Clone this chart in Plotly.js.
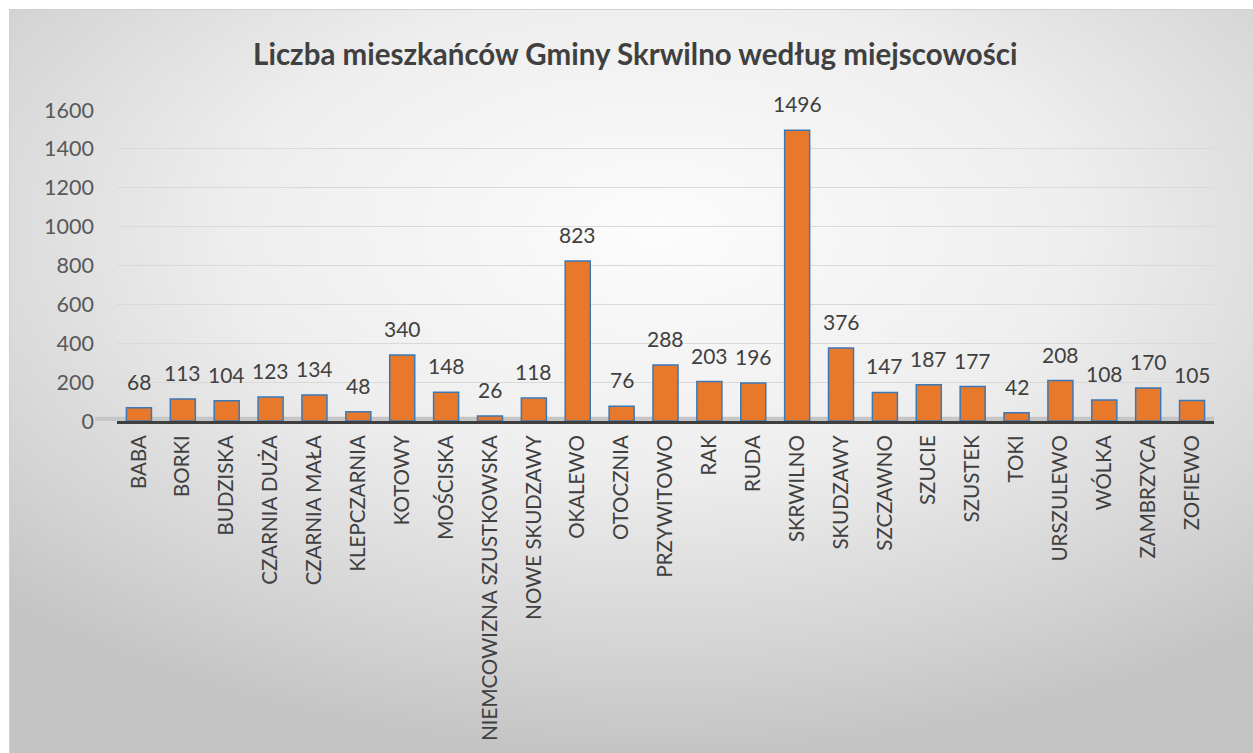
<!DOCTYPE html>
<html><head><meta charset="utf-8">
<script src="https://cdn.plot.ly/plotly-3.0.1.min.js"></script>
<style>
html,body{margin:0;padding:0;background:#fff;}
#bg{position:absolute;left:9px;top:9px;width:1244px;height:744px;
background:radial-gradient(ellipse 75% 70% at 52% 30%, #fcfcfc 0%, #eeeeee 45%, #d4d4d4 80%, #c4c4c4 100%);
border-top:1px solid #d0d0d0;border-left:1px solid #d0d0d0;}
#chart{position:absolute;left:0;top:0;width:1253px;height:753px;}
</style></head>
<body>
<div id="bg"></div>
<div id="chart"></div>
<script>
const categories = ["BABA","BORKI","BUDZISKA","CZARNIA DUŻA","CZARNIA MAŁA","KLEPCZARNIA","KOTOWY","MOŚCISKA","NIEMCOWIZNA SZUSTKOWSKA","NOWE SKUDZAWY","OKALEWO","OTOCZNIA","PRZYWITOWO","RAK","RUDA","SKRWILNO","SKUDZAWY","SZCZAWNO","SZUCIE","SZUSTEK","TOKI","URSZULEWO","WÓLKA","ZAMBRZYCA","ZOFIEWO"];
const residents = [68,113,104,123,134,48,340,148,26,118,823,76,288,203,196,1496,376,147,187,177,42,208,108,170,105];
const yTicks = [0,200,400,600,800,1000,1200,1400,1600];
const chartTitle = "Liczba mieszkańców Gminy Skrwilno według miejscowości";

const font = "Lato, 'Open Sans', sans-serif";
const labelAnnotations = categories.map((c, i) => ({
  x: c, y: residents[i], xref: "x", yref: "y",
  text: String(residents[i]), showarrow: false,
  yanchor: "bottom", yshift: 12,
  font: {family: font, size: 21, color: "#404040"}
}));

Plotly.newPlot("chart", [{
  type: "bar",
  x: categories,
  y: residents,
  cliponaxis: false,
  marker: {color: "#e8792b", line: {color: "#3a78b8", width: 1.5}},
  hoverinfo: "x+y"
}], {
  width: 1253, height: 753,
  paper_bgcolor: "rgba(0,0,0,0)",
  plot_bgcolor: "rgba(0,0,0,0)",
  margin: {l: 117, r: 39, t: 110, b: 332},
  bargap: 0.43,
  title: {text: "<b>" + chartTitle + "</b>", x: 0.507, xanchor: "center", y: 0.927, yanchor: "middle",
    font: {family: font, size: 29.5, color: "#404040"}},
  xaxis: {
    type: "category",
    tickangle: -90,
    tickfont: {family: font, size: 20.5, color: "#404040"},
    showline: true, linecolor: "#3f3f3f", linewidth: 3,
    ticks: "", ticklabelstandoff: 3,
    showgrid: false, zeroline: false
  },
  yaxis: {
    range: [0, 1600],
    tickvals: yTicks,
    tickfont: {family: font, size: 21.5, color: "#595959"},
    gridcolor: "#d9d9d9", gridwidth: 1.2,
    zeroline: false, showline: false, ticks: "",
    ticklabelstandoff: 22
  },
  annotations: labelAnnotations,
  shapes: [{type: "rect", xref: "paper", yref: "y", x0: -0.02, x1: 1.0, y0: 0, y1: 22,
    fillcolor: "#c6c6c6", line: {width: 0}, layer: "below"}],
  showlegend: false
}, {displayModeBar: false});
</script>
</body></html>
